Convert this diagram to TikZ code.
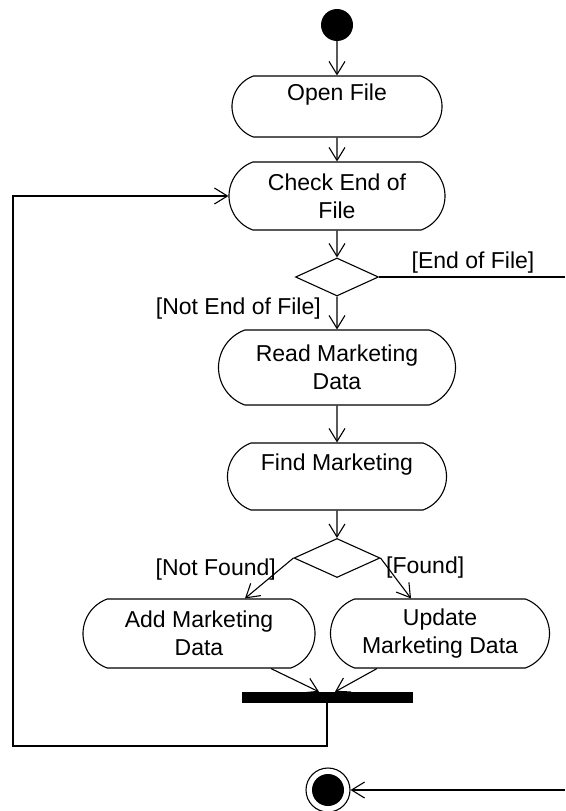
\documentclass[tikz,border=0pt]{standalone}
\usepackage{fontspec}
\setmainfont{Liberation Sans}
\usetikzlibrary{arrows.meta,shapes.geometric,shapes.misc,calc}
\newcommand\umlfont{\fontsize{23}{28}\selectfont}
\begin{document}
\begin{tikzpicture}[x=1pt,y=-1pt,
  every node/.style={font=\umlfont},
  act/.style={draw, rounded rectangle, rounded rectangle arc length=140, align=center, inner sep=0pt, line width=1.1pt, fill=white},
  arr/.style={line width=1.1pt, -{Straight Barb[length=13pt,width=16pt]}},
  ln/.style={line width=1.1pt},
  dec/.style={draw, diamond, inner sep=0pt, line width=1.1pt},
  guard/.style={inner sep=0pt}]
\useasboundingbox (0,0) rectangle (565,811);
% nodes
\node[circle, fill=black, minimum size=32pt, inner sep=0pt] (start) at (337,25) {};
\node[act, minimum width=210pt, minimum height=61pt] (open) at (337,106.5) {Open File\\\mbox{}};
\node[act, minimum width=216pt, minimum height=68pt] (check) at (337,196) {Check End of\\File};
\node[dec, minimum width=83pt, minimum height=38pt] (d1) at (337,277) {};
\node[act, minimum width=237pt, minimum height=75pt] (read) at (337,367.5) {Read Marketing\\Data};
\node[act, minimum width=219pt, minimum height=67pt] (find) at (337,476.5) {Find Marketing\\\mbox{}};
\node[dec, minimum width=86pt, minimum height=39pt] (d2) at (337,558) {};
\node[act, minimum width=232pt, minimum height=69pt] (add) at (199,633.5) {Add Marketing\\Data};
\node[act, minimum width=219pt, minimum height=69pt] (upd) at (440,633.5) {Update\\Marketing Data};
\node[fill=black, minimum width=171pt, minimum height=11pt, inner sep=0pt] (bar) at (327,697.5) {};
\node[circle, draw, line width=1.1pt, minimum size=44pt, inner sep=0pt] (end) at (328,790) {};
\fill (end.center) circle (16pt);
% guards
\node[guard, anchor=base east] (gnot) at (321,314) {[Not End of File]};
\node[guard, anchor=base] (geof) at (473,268) {[End of File]};
\node[guard, anchor=base east] (gnf) at (276,575) {[Not Found]};
\node[guard, anchor=base west] (gf) at (386,573) {[Found]};
% free ends
\coordinate (eofR) at (565,277);
\coordinate (endR) at (565,790);
\coordinate (l2) at (13,746);
% connectors
\draw[arr] (start) -- (open);
\draw[arr] (open) -- (check);
\draw[arr] (check) -- (d1);
\draw[arr] (d1) -- (read);
\draw[ln] (d1.east) -- (eofR);
\draw[arr] (read) -- (find);
\draw[arr] (find) -- (d2);
\draw[arr] (d2.west) -- ([xshift=46pt]add.north);
\draw[arr] (d2.east) -- ([xshift=-29pt]upd.north);
\draw[arr] ([xshift=72pt]add.south) -- ([xshift=-8pt]bar.north);
\draw[arr] ([xshift=-63pt]upd.south) -- ([xshift=8pt]bar.north);
\draw[arr] (bar.south) |- (l2) |- (check.west);
\draw[arr] (endR) -- (end.east);
\end{tikzpicture}
\end{document}
